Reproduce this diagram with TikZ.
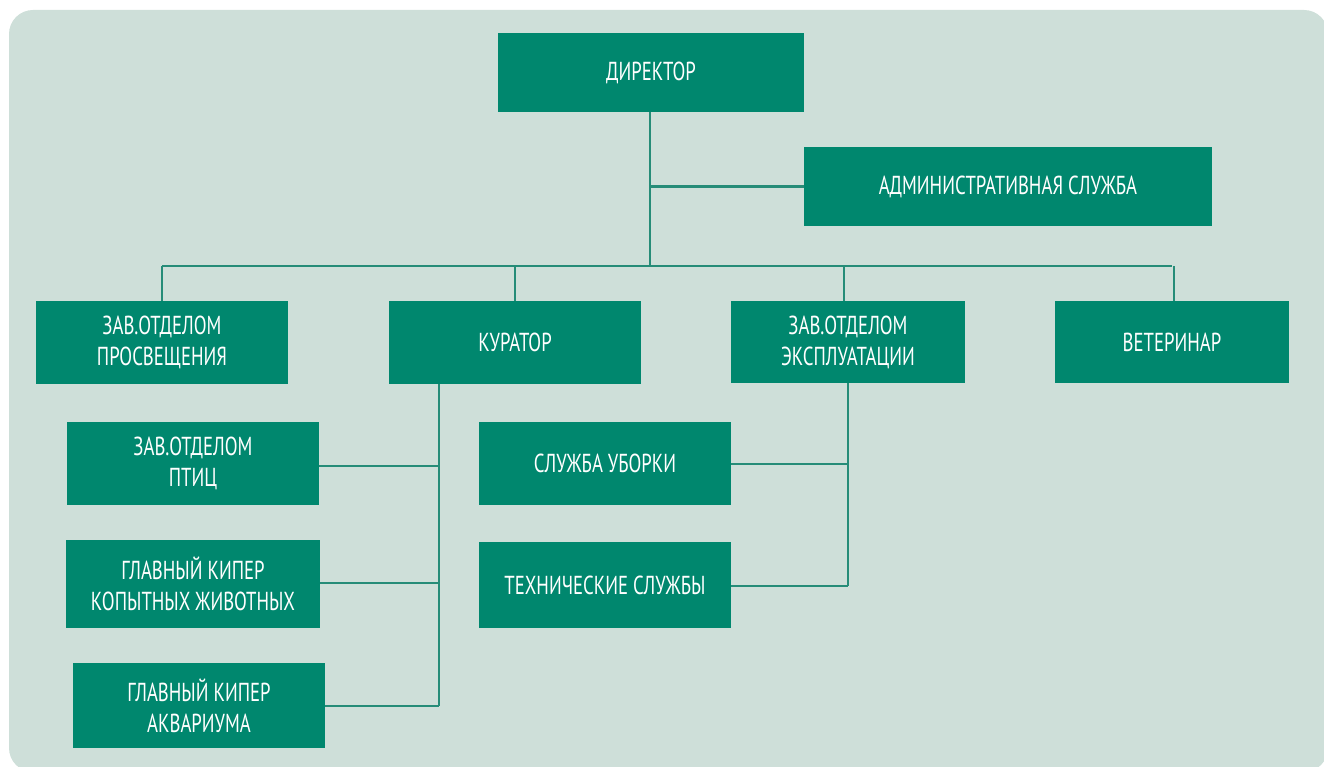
\documentclass[tikz,border=0pt]{standalone}
\usepackage{fontspec}
\setmainfont[FakeStretch=0.72]{PT Sans}
\definecolor{bgc}{HTML}{CEDFD9}
\definecolor{boxc}{HTML}{00876E}
\definecolor{linec}{HTML}{268C78}
\tikzset{
  orgbox/.style={fill=boxc, text=white, inner sep=0pt, align=center,
    font=\fontsize{26}{31}\selectfont},
  conn/.style={draw=linec, line width=2.8pt},
}
\begin{document}
\begin{tikzpicture}[x=1pt,y=-1pt]
\useasboundingbox (0,0) rectangle (1324,767);
\fill[bgc, rounded corners=24] (9,10) rectangle (1328,772);
% nodes
\node[orgbox, minimum width=306, minimum height=79] (dir) at (651,72.5) {ДИРЕКТОР};
\node[orgbox, minimum width=408, minimum height=79] (adm) at (1008,186.5) {АДМИНИСТРАТИВНАЯ СЛУЖБА};
\node[orgbox, minimum width=252, minimum height=83] (pros) at (162,342.5) {ЗАВ.ОТДЕЛОМ\\ПРОСВЕЩЕНИЯ};
\node[orgbox, minimum width=252, minimum height=83] (kur) at (515,342.5) {КУРАТОР};
\node[orgbox, minimum width=234, minimum height=82] (expl) at (848,342) {ЗАВ.ОТДЕЛОМ\\ЭКСПЛУАТАЦИИ};
\node[orgbox, minimum width=234, minimum height=82] (vet) at (1172,342) {ВЕТЕРИНАР};
\node[orgbox, minimum width=252, minimum height=83] (ptic) at (193,463) {ЗАВ.ОТДЕЛОМ\\ПТИЦ};
\node[orgbox, minimum width=254, minimum height=88] (kop) at (193,584) {ГЛАВНЫЙ КИПЕР\\КОПЫТНЫХ ЖИВОТНЫХ};
\node[orgbox, minimum width=252, minimum height=85] (akv) at (199,705.5) {ГЛАВНЫЙ КИПЕР\\АКВАРИУМА};
\node[orgbox, minimum width=252, minimum height=83] (ubor) at (605,463) {СЛУЖБА УБОРКИ};
\node[orgbox, minimum width=252, minimum height=86] (tech) at (605,585) {ТЕХНИЧЕСКИЕ СЛУЖБЫ};
% coordinates
\coordinate (bus) at (650,266);
\coordinate (kx) at (439,706);
\coordinate (ex) at (848,586);
% connectors
\draw[conn] (dir.south -| bus) -- (bus);
\draw[conn] (dir.south -| bus) |- (adm.west);
\draw[conn] (pros.north |- bus) -- (vet.north |- bus);
\draw[conn] (pros.north) -- (pros.north |- bus);
\draw[conn] (kur.north) -- (kur.north |- bus);
\draw[conn] ([xshift=-4]expl.north) -- ([xshift=-4]expl.north |- bus);
\draw[conn] ([xshift=2]vet.north) -- ([xshift=2]vet.north |- bus);
\draw[conn] (kur.south -| kx) -- (kx);
\draw[conn] (ptic.east |- 0,466) -- (kx |- 0,466);
\draw[conn] (kop.east |- 0,583) -- (kx |- 0,583);
\draw[conn] (akv.east |- kx) -- (kx);
\draw[conn] (expl.south -| ex) -- (ex);
\draw[conn] (ubor.east |- 0,464) -- (ex |- 0,464);
\draw[conn] (tech.east |- ex) -- (ex);
\end{tikzpicture}
\end{document}
